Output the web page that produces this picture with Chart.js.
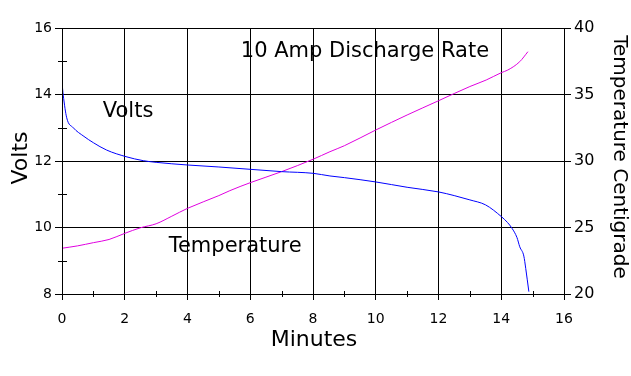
<!DOCTYPE html>
<html lang="en">
<head>
<meta charset="UTF-8">
<title>10 Amp Discharge Rate</title>
<script src="https://cdn.jsdelivr.net/npm/chart.js"></script>
<style>
  body { margin: 0; background: white; }
  canvas { display: block; }
</style>
</head>
<body>
<canvas id="chart" width="631" height="376"></canvas>
<script>
// volts curve (minutes, volts)
const voltTime = [0, 0.04, 0.15, 0.36, 0.7, 1.0, 1.42, 2.04, 2.59, 3.0, 4.0, 5.0, 6.0, 7.0, 8.0, 8.54, 9.0, 10.0, 11.0, 12.0, 12.5, 13.0, 13.5, 14.0, 14.2, 14.34, 14.5, 14.59, 14.72, 14.78, 14.88];
const volts    = [14.35, 13.98, 13.3, 13.0, 12.74, 12.55, 12.33, 12.13, 12.01, 11.96, 11.88, 11.82, 11.75, 11.68, 11.63, 11.55, 11.5, 11.37, 11.21, 11.07, 10.96, 10.83, 10.68, 10.33, 10.15, 9.98, 9.7, 9.42, 9.14, 8.77, 8.07];

// temperature curve (minutes, degrees C)
const tempTime = [0, 0.5, 1.0, 1.5, 2.0, 2.5, 3.0, 3.5, 4.0, 5.0, 5.35, 6.0, 7.0, 8.0, 8.54, 9.0, 10.0, 11.0, 12.0, 13.0, 13.52, 14.0, 14.21, 14.59, 14.85];
const temps    = [23.44, 23.62, 23.86, 24.1, 24.56, 24.98, 25.28, 25.85, 26.44, 27.4, 27.77, 28.37, 29.2, 30.13, 30.7, 31.15, 32.33, 33.46, 34.53, 35.6, 36.09, 36.64, 36.84, 37.47, 38.22];

const xTicks = [0, 2, 4, 6, 8, 10, 12, 14, 16];
const xMinor = [1, 3, 5, 7, 9, 11, 13, 15];
const voltMinor = [9, 11, 13, 15];

const labels = [
    { text: "10 Amp Discharge Rate", x: 5.7, v: 15.14 },
    { text: "Volts", x: 1.3, v: 13.33 },
    { text: "Temperature", x: 3.4, v: 9.26 }
];

const pts = (xs, ys) => xs.map((x, i) => ({ x: x, y: ys[i] }));

const tickFont = { family: "DejaVu Sans", size: 14 };

const extras = {
    id: 'extras',
    afterDraw(chart) {
        const c = chart.ctx;
        const a = chart.chartArea;
        const xs = chart.scales.x, ys = chart.scales.y;
        c.save();
        c.strokeStyle = "#000";
        c.lineWidth = 1;
        c.strokeRect(Math.round(a.left) + 0.5, Math.round(a.top) + 0.5,
                     Math.round(a.right - a.left), Math.round(a.bottom - a.top));
        // minor ticks
        c.beginPath();
        xMinor.forEach(m => {
            const px = Math.round(xs.getPixelForValue(m)) + 0.5;
            c.moveTo(px, a.bottom - 3);
            c.lineTo(px, a.bottom + 3);
        });
        voltMinor.forEach(m => {
            const py = Math.round(ys.getPixelForValue(m)) + 0.5;
            c.moveTo(a.left - 4, py);
            c.lineTo(a.left + 5, py);
        });
        c.stroke();

        c.fillStyle = "#000";
        c.font = "21px 'DejaVu Sans'";
        c.textBaseline = "alphabetic";
        c.textAlign = "left";
        labels.forEach(l => {
            c.fillText(l.text, xs.getPixelForValue(l.x), ys.getPixelForValue(l.v));
        });

        // axis titles
        c.textAlign = "center";
        c.textBaseline = "middle";
        c.font = "22px 'DejaVu Sans'";
        c.fillText("Minutes", (a.left + a.right) / 2 + 1, 340);

        c.save();
        c.translate(21, 158);
        c.rotate(-Math.PI / 2);
        c.fillText("Volts", 0, 0);
        c.restore();

        c.save();
        c.font = "20px 'DejaVu Sans'";
        c.translate(619, 157);
        c.rotate(Math.PI / 2);
        c.fillText("Temperature Centigrade", 0, 0);
        c.restore();
        c.restore();
    }
};

new Chart(document.getElementById("chart"), {
    type: 'line',
    data: {
        datasets: [
            {
                label: "Volts",
                data: pts(voltTime, volts),
                borderColor: "#0000ff",
                borderWidth: 1,
                pointRadius: 0,
                cubicInterpolationMode: 'monotone',
                yAxisID: 'y'
            },
            {
                label: "Temperature",
                data: pts(tempTime, temps),
                borderColor: "#e000e0",
                borderWidth: 1,
                pointRadius: 0,
                cubicInterpolationMode: 'monotone',
                yAxisID: 'y2'
            }
        ]
    },
    options: {
        responsive: false,
        animation: false,
        layout: { padding: { top: 28 } },
        plugins: { legend: { display: false }, tooltip: { enabled: false } },
        scales: {
            x: {
                type: 'linear',
                min: 0, max: 16,
                afterBuildTicks: s => { s.ticks = xTicks.map(v => ({ value: v })); },
                afterFit: s => { s.height = 82; },
                grid: { color: "#000", tickLength: 6, tickColor: "#000" },
                border: { color: "#000" },
                ticks: { color: "#000", font: tickFont, padding: 11, maxRotation: 0 }
            },
            y: {
                position: 'left',
                min: 8, max: 16,
                afterFit: s => { s.width = 62; },
                grid: { color: "#000", tickLength: 7, tickColor: "#000" },
                border: { color: "#000" },
                ticks: { stepSize: 2, color: "#000", font: tickFont, padding: 3 }
            },
            y2: {
                position: 'right',
                min: 20, max: 40,
                afterFit: s => { s.width = 67; },
                grid: { drawOnChartArea: false, tickLength: 7, tickColor: "#000" },
                border: { color: "#000" },
                ticks: { stepSize: 5, color: "#000", font: { family: "DejaVu Sans", size: 16 }, padding: 3 }
            }
        }
    },
    plugins: [extras]
});
</script>
</body>
</html>
